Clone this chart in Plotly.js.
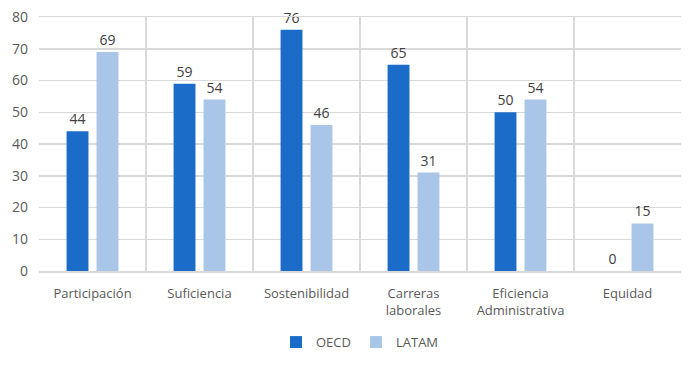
<!DOCTYPE html>
<html>
<head>
<meta charset="utf-8">
<script src="https://cdn.plot.ly/plotly-3.0.1.min.js"></script>
<style>html,body{margin:0;padding:0;background:#fff;}#chart{width:700px;height:366px;}</style>
</head>
<body>
<div id="chart"></div>
<script>
var categories = ["Participación", "Suficiencia", "Sostenibilidad", "Carreras<br>laborales", "Eficiencia<br>Administrativa", "Equidad"];
var oecdValues = [44, 59, 76, 65, 50, 0];
var latamValues = [69, 54, 46, 31, 54, 15];
var yTicks = [0, 10, 20, 30, 40, 50, 60, 70, 80];

var fontFam = "Open Sans, Lato, sans-serif";
var traces = [
  {type: "bar", name: "OECD", x: categories, y: oecdValues,
   marker: {color: "#1a6cc8", line: {width: 0}},
   text: oecdValues.map(String), textposition: "outside", cliponaxis: false,
   textfont: {color: "#404040", size: 14, family: fontFam}},
  {type: "bar", name: "LATAM", x: categories, y: latamValues,
   marker: {color: "#a9c5e8", line: {width: 0}},
   text: latamValues.map(String), textposition: "outside", cliponaxis: false,
   textfont: {color: "#404040", size: 14, family: fontFam}}
];

var layout = {
  width: 700, height: 366,
  margin: {l: 39, r: 19, t: 17, b: 95, autoexpand: false},
  paper_bgcolor: "#fff", plot_bgcolor: "#fff",
  font: {family: fontFam, size: 13, color: "#595959"},
  barmode: "group", bargap: 0.44, bargroupgap: 0.27,
  showlegend: true,
  legend: {orientation: "h", x: 0.5, xanchor: "center", y: -0.28, yanchor: "middle",
           font: {size: 13, color: "#595959"}, itemwidth: 30, traceorder: "normal"},
  xaxis: {type: "category", tickson: "boundaries", showgrid: true, gridcolor: "#d9d9d9", gridwidth: 1.5,
          ticks: "", showline: true, linecolor: "#d9d9d9", linewidth: 1.5, mirror: true,
          ticklabelstandoff: 10,
          tickfont: {size: 13, color: "#595959"}, fixedrange: true},
  yaxis: {range: [0, 80], tickvals: yTicks, ticktext: yTicks.map(String), showgrid: true,
          gridcolor: "#d9d9d9", gridwidth: 1.5, zeroline: false, showline: false,
          ticks: "", ticklen: 0, ticklabelstandoff: 10, tickfont: {size: 14, color: "#595959"}, fixedrange: true}
};

Plotly.newPlot("chart", traces, layout, {displayModeBar: false, staticPlot: true});
</script>
</body>
</html>
